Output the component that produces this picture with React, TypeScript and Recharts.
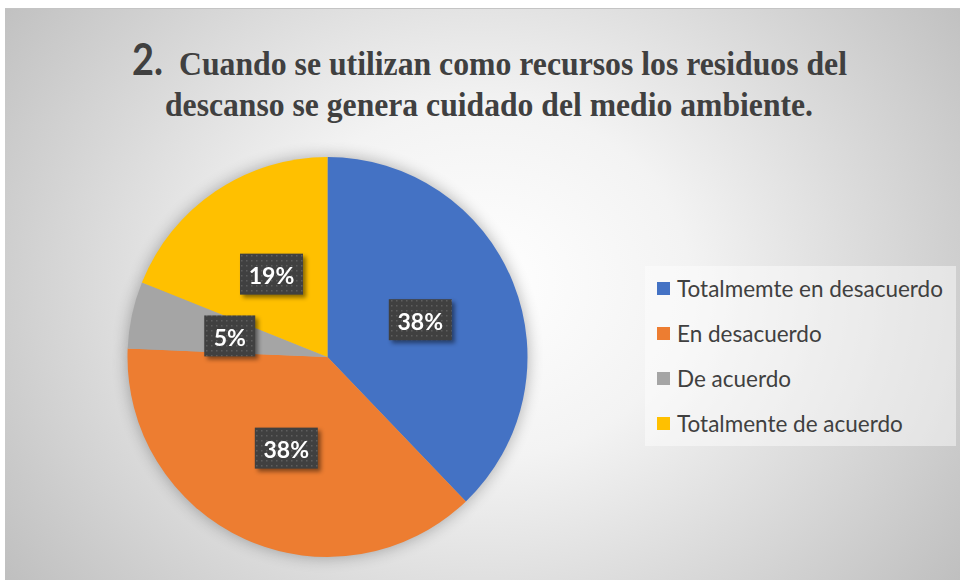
import { PieChart, Pie, Cell, Legend } from 'recharts';

const categories = ['Totalmemte en desacuerdo', 'En desacuerdo', 'De acuerdo', 'Totalmente de acuerdo'];
const counts = [14, 14, 2, 7];
const colors = ['#4472C4', '#ED7D31', '#A5A5A5', '#FFC000'];

const titleNumber = '2.';
const titleLines = ['Cuando se utilizan como recursos los residuos del', 'descanso se genera cuidado del medio ambiente.'];

const data = categories.map((name, i) => ({ name, value: counts[i] }));

const RADIAN = Math.PI / 180;

const renderLabel = (props: any) => {
  const { cx, cy, midAngle, innerRadius, outerRadius, percent } = props;
  const r = innerRadius + (outerRadius - innerRadius) * 0.5;
  const x = cx + r * Math.cos(-midAngle * RADIAN);
  const y = cy + r * Math.sin(-midAngle * RADIAN);
  const text = `${Math.round(percent * 100)}%`;
  const w = (text.length - 1) * 12 + 39;
  const h = 41;
  return (
    <g style={{ filter: 'drop-shadow(3px 3px 2px rgba(0,0,0,0.45))' }}>
      <rect x={x - w / 2} y={y - h / 2} width={w} height={h} fill="url(#dots)" />
      <text
        x={x}
        y={y + 1}
        fill="#ffffff"
        textAnchor="middle"
        dominantBaseline="central"
        fontFamily="Lato"
        fontWeight={700}
        fontSize={23}
      >
        {text}
      </text>
    </g>
  );
};

const renderLegend = (props: any) => {
  const items = (props.payload || [])
    .filter((p: any) => p.type !== 'none')
    .slice()
    .sort((a: any, b: any) => categories.indexOf(a.value) - categories.indexOf(b.value));
  return (
    <div style={{ background: 'rgba(255,255,255,0.45)', width: 311, height: 180 }}>
      {items.map((entry: any) => (
        <div
          key={entry.value}
          style={{ height: 45, display: 'flex', alignItems: 'center', position: 'relative' }}
        >
          <span style={{ position: 'absolute', left: 12, width: 13, height: 13, background: entry.color }} />
          <span
            style={{
              position: 'absolute',
              left: 32,
              fontFamily: 'Lato',
              fontSize: 22.5,
              color: '#404040',
              whiteSpace: 'nowrap',
            }}
          >
            {entry.value}
          </span>
        </div>
      ))}
    </div>
  );
};

export default function App() {
  return (
    <div style={{ position: 'absolute', left: 0, top: 0, width: 960, height: 580, background: '#fff', overflow: 'hidden' }}>
      <svg width={0} height={0} style={{ position: 'absolute' }}>
        <defs>
          <pattern id="dots" width={5} height={5} patternUnits="userSpaceOnUse">
            <rect width={5} height={5} fill="#404040" />
            <rect x={1} y={1} width={1.5} height={1.5} fill="#5e5e5e" />
          </pattern>
        </defs>
      </svg>
      <div
        style={{
          position: 'absolute',
          left: 5,
          top: 8,
          width: 955,
          height: 572,
          borderTop: '1px solid #c4c4c4',
          boxSizing: 'border-box',
          background: 'radial-gradient(ellipse 62% 88% at 50% 48%, #ffffff 0%, #f3f3f3 35%, #bfbfbf 100%)',
        }}
      >
        <PieChart width={955} height={571}>
          <Pie
            data={data}
            dataKey="value"
            nameKey="name"
            cx={317.5}
            cy={343}
            outerRadius={200}
            startAngle={90}
            endAngle={-270}
            fill="#000"
            stroke="none"
            legendType="none"
            label={false}
            labelLine={false}
            isAnimationActive={false}
            style={{ filter: 'blur(8px)', opacity: 0.3 }}
          />
          <Pie
            data={data}
            dataKey="value"
            nameKey="name"
            cx={317.5}
            cy={343}
            outerRadius={200}
            startAngle={90}
            endAngle={-270}
            stroke="none"
            label={renderLabel}
            labelLine={false}
            isAnimationActive={false}
          >
            {data.map((entry, index) => (
              <Cell key={`cell-${index}`} fill={colors[index % colors.length]} />
            ))}
          </Pie>
          <Legend
            layout="vertical"
            content={renderLegend}
            wrapperStyle={{ left: 640, top: 257, width: 311, height: 180 }}
          />
        </PieChart>
      </div>
      <svg width={960} height={140} style={{ position: 'absolute', left: 0, top: 0, pointerEvents: 'none' }}>
        <text
          x={132}
          y={75}
          fontFamily="Lato"
          fontWeight={700}
          fontSize={43}
          fill="#404040"
          textLength={31}
          lengthAdjust="spacingAndGlyphs"
        >
          {titleNumber}
        </text>
        <text
          x={179}
          y={75}
          fontFamily="Liberation Serif"
          fontWeight={700}
          fontSize={34}
          fill="#404040"
          textLength={668}
          lengthAdjust="spacingAndGlyphs"
        >
          {titleLines[0]}
        </text>
        <text
          x={165}
          y={116}
          fontFamily="Liberation Serif"
          fontWeight={700}
          fontSize={34}
          fill="#404040"
          textLength={648}
          lengthAdjust="spacingAndGlyphs"
        >
          {titleLines[1]}
        </text>
      </svg>
    </div>
  );
}
